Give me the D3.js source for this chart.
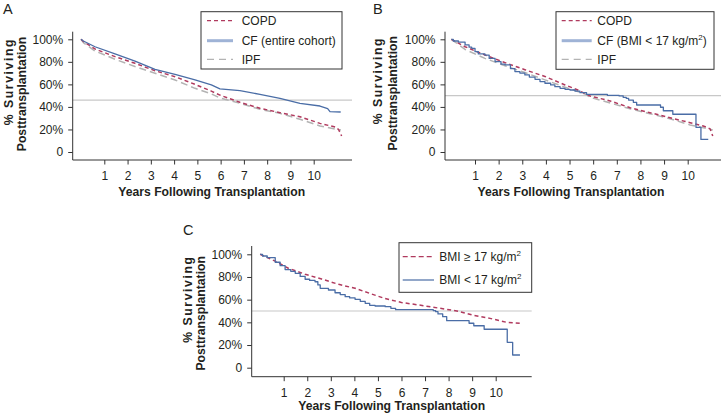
<!DOCTYPE html>
<html><head><meta charset="utf-8">
<script src="https://cdn.jsdelivr.net/npm/d3@7/dist/d3.min.js"></script>
<style>
body{margin:0;background:#fff}
text{font-family:"Liberation Sans",Arial,Helvetica,sans-serif;fill:#231f20}
</style>
</head><body>
<svg id="chart" width="722" height="415"></svg>
<script>
// ---------- tick labels ----------
const yTickValues = [0, 0.2, 0.4, 0.6, 0.8, 1];
const yTickLabels = ["0", "20%", "40%", "60%", "80%", "100%"];
const xTickValues = [1, 2, 3, 4, 5, 6, 7, 8, 9, 10];
const xTickLabels = ["1", "2", "3", "4", "5", "6", "7", "8", "9", "10"];
const xTitle = "Years Following Transplantation";
const yTitle1 = "% Surviving";
const yTitle2 = "Posttransplantation";
const panelLetters = ["A", "B", "C"];
const refLines = [0.46, 0.50, 0.50];

// ---------- Panel A data (years, % surviving) ----------
const aCopdYears = [0, 0.1, 0.6, 1.46, 2.32, 3.18, 4.04, 4.9, 5.6, 5.97, 6.83, 7.69, 8.55, 9.41, 10.27, 10.98, 11.08, 11.2];
const aCopdVals  = [100, 98, 91.4, 84.6, 78.7, 72.1, 66.8, 60, 54, 50.5, 44.1, 38.8, 34.9, 31.3, 25.4, 21.9, 19.5, 14.2];
const aCfYears   = [0, 0.1, 0.6, 1.46, 2.32, 3.18, 4.04, 4.9, 5.6, 5.97, 6.83, 7.69, 8.55, 9.41, 10.27, 10.6, 10.7, 11.16];
const aCfVals    = [100, 98.5, 93.4, 87, 80.7, 73.3, 68.9, 63.9, 59.5, 56, 54.4, 51.2, 47.6, 43.2, 40.8, 38.5, 35.8, 35.5];
const aIpfYears  = [0, 0.1, 0.6, 1.46, 2.32, 3.18, 4.04, 4.9, 5.6, 5.97, 6.83, 7.69, 8.55, 9.41, 10.27, 10.98, 11.17];
const aIpfVals   = [100, 97, 89.6, 82.3, 75.8, 69.9, 63.9, 56.5, 51.5, 48, 43.2, 37.9, 34.3, 29, 23.1, 20.1, 19.5];

// ---------- Panel B data ----------
const bCopdYears = [0, 0.58, 1.42, 2.27, 3.11, 3.96, 4.81, 5.3, 5.87, 6.72, 7.56, 8.4, 9.25, 10.1, 10.66, 10.95, 11.06];
const bCopdVals  = [100, 93.4, 86.1, 79.3, 73, 67, 59.5, 55.5, 49.7, 45.3, 39.3, 34.9, 30.4, 26, 23.1, 20.5, 14.2];
const bCfYears   = [0, 0.08, 0.3, 0.58, 0.75, 0.86, 1.0, 1.14, 1.42, 1.6, 1.85, 2.1, 2.27, 2.5, 2.69, 2.9, 3.11, 3.3, 3.54, 3.75, 3.96, 4.2, 4.38, 4.6, 4.81, 5.02, 5.23, 5.44, 5.72, 6.6, 7.1, 7.27, 7.4, 7.5, 7.7, 7.84, 8.85, 8.97, 9.37, 10.35, 10.56, 10.87];
const bCfVals    = [100, 98.5, 97.5, 95, 93, 92, 89, 87, 86, 83, 80.2, 78, 77.3, 74, 71.4, 70, 68.4, 66.5, 64.5, 62.5, 61, 59.5, 58, 56.5, 55.6, 55, 54.1, 52.6, 51.2, 50.3, 49.8, 48.5, 47.6, 46.1, 44.1, 41.7, 39.7, 36.6, 33.5, 21.9, 11.2, 11.2];
const bIpfYears  = [0, 0.58, 1.42, 2.27, 3.11, 3.96, 4.81, 5.65, 5.87, 6.72, 7.56, 8.4, 9.25, 10.1, 10.66, 11.06];
const bIpfVals   = [100, 91, 83.1, 76.5, 70.5, 64, 57.5, 51.5, 48.5, 43.5, 38.3, 34, 29.5, 24, 21.5, 19.5];

// ---------- Panel C data ----------
const cHighYears = [0, 0.64, 1.2, 1.91, 2.61, 3.33, 4.03, 4.73, 5.3, 6, 6.93, 7.6, 8.35, 9, 9.76, 10.47, 11.1];
const cHighVals  = [100, 94, 87.7, 82.4, 78.2, 73.5, 70, 65, 61, 57.5, 54.7, 52.5, 50, 46.5, 43.5, 40, 39];
const cLowYears  = [0, 0.1, 0.3, 0.64, 0.85, 1.06, 1.3, 1.49, 1.7, 1.91, 2.1, 2.33, 2.45, 2.55, 2.9, 3.18, 3.4, 3.61, 3.8, 4.03, 4.25, 4.46, 4.65, 4.88, 5.31, 5.55, 5.75, 7.35, 7.45, 7.55, 7.75, 7.92, 8.87, 9.07, 9.51, 10.49, 10.72, 11.03];
const cLowVals   = [100, 98.5, 97, 93, 90, 86.5, 85, 83.2, 80.5, 78, 77, 75.8, 73, 70, 68.5, 66.1, 64.5, 62.6, 61.5, 60.3, 58.5, 56.8, 55, 54.4, 53.8, 52.4, 51.2, 50.4, 49.4, 47.4, 45, 41.5, 39.2, 37, 33.9, 22.4, 11.2, 11.2];

// ---------- styles ----------
const RED = "#b03a5e", BLUE = "#4a6da6", LIGHTBLUE = "#9fb3d6", GRAY = "#b3b3b3", REF = "#c8c8c8", AXIS = "#333";
const st = {
  copd: {stroke: RED, width: 1.5, dash: "4,3", curve: d3.curveLinear},
  ipf:  {stroke: GRAY, width: 1.5, dash: "7,4", curve: d3.curveLinear},
  cf:   {stroke: BLUE, width: 1.3, dash: null, curve: d3.curveLinear},
  cfStep: {stroke: BLUE, width: 1.3, dash: null, curve: d3.curveStepAfter},
  high: {stroke: RED, width: 1.5, dash: "4,3", curve: d3.curveLinear}
};
const zip = (xs, ys) => xs.map((x, i) => [x, ys[i] / 100]);

// ---------- panels (layout) ----------
const panels = [
  {letter: 0, lx: 3, ly: 13.5, left: 72.7, right: 352, top: 31.7, bottom: 160, x1: 104.3, x10: 313.7, yz: 152, yh: 39.3,
   yt1: [8.5, 81.7], yt2: [22, 94], xt: [211.7, 195.5],
   series: [[zip(aIpfYears, aIpfVals), st.ipf], [zip(aCopdYears, aCopdVals), st.copd], [zip(aCfYears, aCfVals), st.cf]],
   legend: {x: 201, y: 11.7, w: 141, h: 57.3, sx1: 207, sx2: 233, tx: 241.7,
     rows: [{y: 20.7, s: "copd", parts: [["COPD"]]}, {y: 40.7, s: "cfl", parts: [["CF (entire cohort)"]]}, {y: 59.3, s: "ipf", parts: [["IPF"]]}]}},
  {letter: 1, lx: 373, ly: 13.5, left: 445, right: 721, top: 31.7, bottom: 160, x1: 475, x10: 687.7, yz: 152, yh: 39.3,
   yt1: [378, 80.7], yt2: [393, 93.3], xt: [571, 195.5],
   series: [[zip(bIpfYears, bIpfVals), st.ipf], [zip(bCopdYears, bCopdVals), st.copd], [zip(bCfYears, bCfVals), st.cfStep]],
   legend: {x: 556, y: 11.7, w: 158, h: 57.6, sx1: 561.7, sx2: 591.7, tx: 597.3,
     rows: [{y: 20.7, s: "copd", parts: [["COPD"]]}, {y: 40.7, s: "cfl", parts: [["CF (BMI < 17 kg/m"], ["2", true], [")"]]}, {y: 59.3, s: "ipf", parts: [["IPF"]]}]}},
  {letter: 2, lx: 183, ly: 235, left: 251.7, right: 531.7, top: 246, bottom: 376.7, x1: 283.7, x10: 495.7, yz: 367.7, yh: 254.3,
   yt1: [187.5, 299.2], yt2: [201, 313.3], xt: [391.7, 410],
   series: [[zip(cHighYears, cHighVals), st.high], [zip(cLowYears, cLowVals), st.cfStep]],
   legend: {x: 399, y: 242.7, w: 132.7, h: 49.6, sx1: 402.7, sx2: 434, tx: 439.3,
     rows: [{y: 256.7, s: "high", parts: [["BMI \u2265 17 kg/m"], ["2", true]]}, {y: 280, s: "low", parts: [["BMI < 17 kg/m"], ["2", true]]}]}}
];
const legendStyle = {
  copd: {stroke: RED, width: 1.3, dash: "4,3"},
  cfl:  {stroke: LIGHTBLUE, width: 3, dash: null},
  ipf:  {stroke: GRAY, width: 1.3, dash: "7,5"},
  high: {stroke: RED, width: 1.3, dash: "5,3"},
  low:  {stroke: BLUE, width: 1.2, dash: null}
};

const svg = d3.select("#chart");

panels.forEach((p, pi) => {
  const g = svg.append("g");
  const x = d3.scaleLinear().domain([1, 10]).range([p.x1, p.x10]);
  const y = d3.scaleLinear().domain([0, 1]).range([p.yz, p.yh]);

  // reference line
  g.append("line").attr("x1", p.left).attr("x2", p.right)
    .attr("y1", y(refLines[pi])).attr("y2", y(refLines[pi]))
    .attr("stroke", REF).attr("stroke-width", 1.2);

  // axes
  const yAx = d3.axisLeft(y).tickValues(yTickValues).tickFormat((d, i) => yTickLabels[i]).tickSize(4.5).tickPadding(5);
  const yg = g.append("g").attr("transform", `translate(${p.left},0)`).call(yAx);
  const xAx = d3.axisBottom(x).tickValues(xTickValues).tickFormat((d, i) => xTickLabels[i]).tickSize(4.5).tickPadding(7);
  const xg = g.append("g").attr("transform", `translate(0,${p.bottom})`).call(xAx);
  [yg, xg].forEach(a => {
    a.select(".domain").remove();
    a.selectAll(".tick line").attr("stroke", AXIS);
    a.selectAll(".tick text").attr("font-size", 12).attr("fill", "#231f20")
      .style("font-family", '"Liberation Sans",Arial,sans-serif');
  });
  g.append("line").attr("x1", p.left).attr("x2", p.left).attr("y1", p.top).attr("y2", p.bottom).attr("stroke", AXIS);
  g.append("line").attr("x1", p.left).attr("x2", p.right).attr("y1", p.bottom).attr("y2", p.bottom).attr("stroke", AXIS);

  // curves
  p.series.forEach(([data, s]) => {
    const line = d3.line().x(d => x(d[0])).y(d => y(d[1])).curve(s.curve);
    g.append("path").attr("d", line(data)).attr("fill", "none")
      .attr("stroke", s.stroke).attr("stroke-width", s.width)
      .attr("stroke-dasharray", s.dash).attr("stroke-linejoin", "round");
  });

  // titles
  g.append("text").attr("x", p.xt[0]).attr("y", p.xt[1]).attr("text-anchor", "middle")
    .attr("font-size", 12.2).attr("font-weight", "bold").text(xTitle);
  g.append("text").attr("transform", `translate(${p.yt1[0]},${p.yt1[1]}) rotate(-90)`).attr("dy", "0.35em")
    .attr("text-anchor", "middle").attr("font-size", 12.2).attr("font-weight", "bold")
    .attr("letter-spacing", 1.6).text(yTitle1);
  g.append("text").attr("transform", `translate(${p.yt2[0]},${p.yt2[1]}) rotate(-90)`).attr("dy", "0.35em")
    .attr("text-anchor", "middle").attr("font-size", 12.2).attr("font-weight", "bold").text(yTitle2);
  g.append("text").attr("x", p.lx).attr("y", p.ly).attr("font-size", 14.5).text(panelLetters[p.letter]);

  // legend
  const L = p.legend;
  g.append("rect").attr("x", L.x).attr("y", L.y).attr("width", L.w).attr("height", L.h)
    .attr("fill", "#fff").attr("stroke", "#333").attr("stroke-width", 1);
  L.rows.forEach(r => {
    const ls = legendStyle[r.s];
    g.append("line").attr("x1", L.sx1).attr("x2", L.sx2).attr("y1", r.y).attr("y2", r.y)
      .attr("stroke", ls.stroke).attr("stroke-width", ls.width).attr("stroke-dasharray", ls.dash);
    const t = g.append("text").attr("x", L.tx).attr("y", r.y + 4.3).attr("font-size", 12);
    let shifted = false;
    r.parts.forEach(([txt, sup]) => {
      const ts = t.append("tspan").text(txt);
      if (sup) { ts.attr("font-size", 8).attr("dy", -5); shifted = true; }
      else if (shifted) { ts.attr("dy", 5); shifted = false; }
    });
  });
});
</script>
</body></html>
